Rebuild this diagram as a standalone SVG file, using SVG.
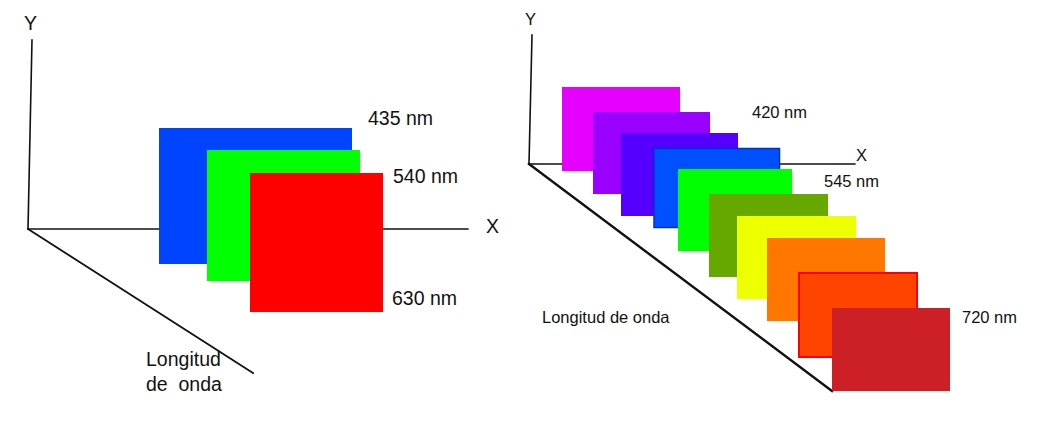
<svg xmlns="http://www.w3.org/2000/svg" width="1040" height="431" viewBox="0 0 1040 431">
<style>
text{font-family:"Liberation Sans",Arial,sans-serif;fill:#111;white-space:pre}
.big{font-size:19.5px}
.sm{font-size:16.5px}
.ax{stroke:#111;fill:none;stroke-linecap:square}
</style>
<rect width="1040" height="431" fill="#fff"/>
<g id="connectors">
<line class="ax" x1="32" y1="40" x2="28" y2="229" stroke-width="1.6"/>
<line class="ax" x1="28" y1="229" x2="468" y2="229" stroke-width="1.3"/>
<line class="ax" x1="28" y1="229" x2="253" y2="373" stroke-width="1.8"/>
<line class="ax" x1="532" y1="35" x2="529" y2="164" stroke-width="1.6"/>
<line class="ax" x1="529" y1="164" x2="855" y2="164" stroke-width="1.3"/>
<line class="ax" x1="529" y1="164" x2="832" y2="391" stroke-width="2.4"/>
</g>
<g id="axis-labels">
<text class="big" x="24" y="30">Y</text>
<text class="big" x="486" y="233">X</text>
<text class="big" x="146" y="366">Longitud</text>
<text class="big" x="146" y="391" xml:space="preserve">de  onda</text>
<text class="sm" x="525" y="25">Y</text>
<text class="sm" x="856" y="161">X</text>
<text class="sm" x="542" y="323">Longitud de onda</text>
</g>
<g id="left-435">
<rect x="159" y="128" width="193" height="136" fill="#0044ff"/>
<text class="big" x="368" y="125">435 nm</text>
</g>
<g id="left-540">
<rect x="207" y="150" width="153" height="131" fill="#00ff00"/>
<text class="big" x="393" y="183">540 nm</text>
</g>
<g id="left-630">
<rect x="250" y="173" width="133" height="139" fill="#ff0000"/>
<text class="big" x="392" y="305">630 nm</text>
</g>
<g id="r1">
<rect x="562" y="87" width="118" height="84" fill="#e600ff"/>
<text class="sm" x="752" y="118">420 nm</text>
</g>
<g id="r2"><rect x="593" y="112" width="117" height="82" fill="#9900ff"/></g>
<g id="r3"><rect x="621" y="133" width="117" height="83" fill="#5500ff"/></g>
<g id="r4"><rect x="654" y="148.5" width="125.5" height="79" fill="#0050ff" stroke="#0030d0" stroke-width="1.5"/></g>
<g id="r5">
<rect x="678" y="169" width="114" height="82" fill="#00ff00"/>
<text class="sm" x="824" y="187">545 nm</text>
</g>
<g id="r6"><rect x="709" y="194" width="119" height="83" fill="#66a800"/></g>
<g id="r7"><rect x="737" y="216" width="119" height="83" fill="#eeff00"/></g>
<g id="r8"><rect x="767" y="238" width="118" height="83" fill="#ff7700"/></g>
<g id="r9"><rect x="799" y="273" width="118" height="84" fill="#ff4400" stroke="#ff0000" stroke-width="2"/></g>
<g id="r10">
<rect x="832" y="308" width="118" height="83" fill="#cc2026"/>
<text class="sm" x="962" y="323">720 nm</text>
</g>
</svg>
